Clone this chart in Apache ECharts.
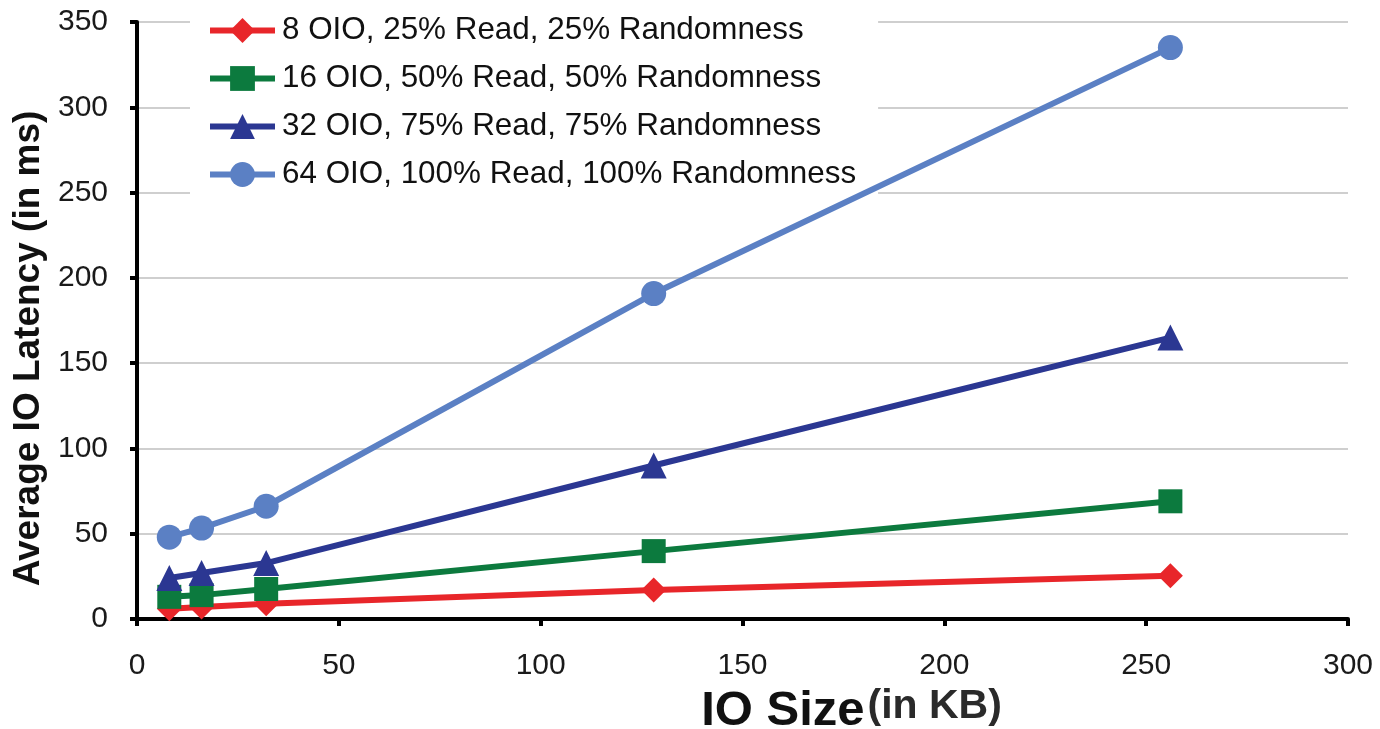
<!DOCTYPE html>
<html>
<head>
<meta charset="utf-8">
<script src="https://cdn.jsdelivr.net/npm/echarts@6/dist/echarts.min.js"></script>
<style>
html,body{margin:0;padding:0;background:#fff;}
#c{width:1380px;height:729px;}
</style>
</head>
<body>
<div id="c"></div>
<script>
var ioSizes = [8, 16, 32, 128, 256];
var seriesNames = [
  '8 OIO, 25% Read, 25% Randomness',
  '16 OIO, 50% Read, 50% Randomness',
  '32 OIO, 75% Read, 75% Randomness',
  '64 OIO, 100% Read, 100% Randomness'
];
var oio8 = [6, 7, 9, 17, 25.4];
var oio16 = [13, 14, 17.6, 39.8, 69];
var oio32 = [24, 27, 32.8, 90, 165];
var oio64 = [48, 53.3, 66.1, 190.8, 335];
var xTicks = [0, 50, 100, 150, 200, 250, 300];
var yTicks = [0, 50, 100, 150, 200, 250, 300, 350];

var colors = ['#e8262a', '#0c7a3e', '#2b3792', '#5b80c4'];
var symbols = ['diamond', 'rect', 'triangle', 'circle'];
var symbolSizes = [25, 24, 26, 25];
var values = [oio8, oio16, oio32, oio64];

function pairs(arr) {
  return ioSizes.map(function (x, i) { return [x, arr[i]]; });
}

var font = 'Liberation Sans, Arial, Helvetica, sans-serif';

var chart = echarts.init(document.getElementById('c'), null, {renderer: 'canvas'});
var option = {
  animation: false,
  backgroundColor: '#fff',
  grid: {left: 137, right: 32, top: 22, bottom: 110, containLabel: false, outerBoundsMode: 'none'},
  legend: {
    orient: 'vertical',
    left: 190,
    top: 8,
    backgroundColor: '#fff',
    padding: [7, 22, 6, 17],
    itemWidth: 65,
    itemHeight: 31,
    itemGap: 17,
    lineStyle: {width: 6},
    textStyle: {fontFamily: font, fontSize: 31.4, color: '#111', padding: [0, 0, 0, 2]},
    data: seriesNames
  },
  xAxis: {
    type: 'value',
    min: 0, max: 300, interval: 50,
    name: '{a|IO Size}{b|(in KB)}',
    nameLocation: 'middle',
    nameGap: 58,
    nameTextStyle: {
      padding: [0, 0, 0, 218],
      rich: {
        a: {fontFamily: font, fontSize: 49, fontWeight: 'bold', color: '#111', lineHeight: 56, verticalAlign: 'bottom'},
        b: {fontFamily: font, fontSize: 41, fontWeight: 'bold', color: '#2a2a2a', lineHeight: 56, verticalAlign: 'bottom', padding: [0, 0, 9, 3]}
      }
    },
    axisLine: {show: true, lineStyle: {color: '#000', width: 4}},
    axisTick: {show: true, length: 7, lineStyle: {color: '#000', width: 4}},
    axisLabel: {
      fontFamily: font, fontSize: 30, color: '#1a1a1a', margin: 32,
      formatter: function (v) { return xTicks.indexOf(v) >= 0 ? String(v) : ''; }
    },
    splitLine: {show: false}
  },
  yAxis: {
    type: 'value',
    min: 0, max: 350, interval: 50,
    name: 'Average IO Latency (in ms)',
    nameLocation: 'middle',
    nameRotate: 90,
    nameGap: 84,
    nameTextStyle: {fontFamily: font, fontSize: 37, fontWeight: 'bold', color: '#111', padding: [0, 56, 0, 0]},
    axisLine: {show: true, lineStyle: {color: '#000', width: 4}},
    axisTick: {show: true, length: 7, lineStyle: {color: '#000', width: 4}},
    axisLabel: {
      fontFamily: font, fontSize: 30, color: '#1a1a1a', margin: 29,
      formatter: function (v) { return yTicks.indexOf(v) >= 0 ? String(v) : ''; }
    },
    splitLine: {show: true, lineStyle: {color: '#cfcfcf', width: 2}}
  },
  series: seriesNames.map(function (name, i) {
    return {
      name: name,
      type: 'line',
      data: pairs(values[i]),
      symbol: symbols[i],
      symbolSize: symbolSizes[i],
      showAllSymbol: true,
      lineStyle: {color: colors[i], width: 6},
      itemStyle: {color: colors[i], borderWidth: 0},
      emphasis: {disabled: true},
      z: 2 + i
    };
  })
};
chart.setOption(option);
</script>
</body>
</html>
